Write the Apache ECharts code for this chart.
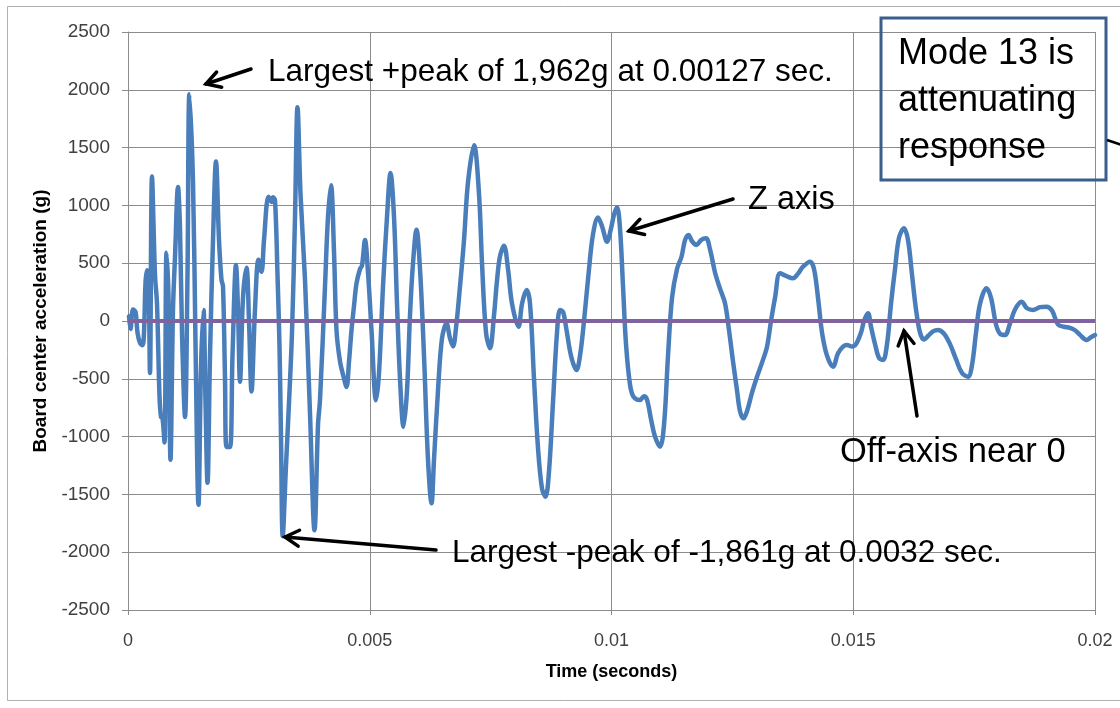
<!DOCTYPE html>
<html>
<head>
<meta charset="utf-8">
<script src="https://cdn.jsdelivr.net/npm/echarts@6/dist/echarts.min.js"></script>
<style>
  html, body { margin: 0; padding: 0; background: #ffffff; }
  #chart { width: 1120px; height: 708px; }
</style>
</head>
<body>
<div id="chart"></div>
<script>
// Board center acceleration, Z axis, time in milliseconds
const timeMs = [
  0.0207, 0.0517, 0.1034, 0.1551, 0.1965, 0.2482, 0.2999, 0.3309, 0.3620, 0.3930,
  0.4240, 0.4550, 0.4964, 0.5584, 0.5998, 0.6515, 0.6825, 0.7136, 0.7549, 0.7963,
  0.8377, 0.8790, 0.9307, 0.9721, 1.0342, 1.0755, 1.1169, 1.1789, 1.2306, 1.2700,
  1.3444, 1.3961, 1.4582, 1.5099, 1.5616, 1.6029, 1.6443, 1.6960, 1.7581, 1.8201,
  1.8822, 1.9339, 1.9649, 2.0063, 2.0373, 2.1097, 2.1614, 2.2338, 2.2751, 2.3165,
  2.3785, 2.4509, 2.5026, 2.5543, 2.6267, 2.6991, 2.7612, 2.8129, 2.9060, 2.9680,
  2.9990, 3.0404, 3.0921, 3.1335, 3.1645, 3.2000, 3.2679, 3.3196, 3.3920, 3.4541,
  3.5058, 3.5678, 3.6609, 3.7643, 3.8574, 3.9298, 3.9711, 4.0746, 4.1366, 4.1986,
  4.2607, 4.3124, 4.3848, 4.4572, 4.5192, 4.5709, 4.6226, 4.6744, 4.7261, 4.7985,
  4.8398, 4.9019, 4.9639, 5.0363, 5.1294, 5.1914, 5.2742, 5.3569, 5.4293, 5.5017,
  5.5637, 5.6258, 5.6982, 5.7706, 5.8326, 5.8947, 5.9671, 6.0394, 6.1222, 6.2049,
  6.2773, 6.3290, 6.4117, 6.4945, 6.5875, 6.6599, 6.7220, 6.7840, 6.8668, 6.9495,
  7.0322, 7.1563, 7.2597, 7.3218, 7.4045, 7.4872, 7.5700, 7.6320, 7.6941, 7.7768,
  7.8595, 7.9423, 8.0767, 8.1491, 8.2422, 8.3146, 8.3973, 8.4800, 8.5628, 8.6352,
  8.7075, 8.7903, 8.8730, 8.9351, 8.9971, 9.0592, 9.1626, 9.2763, 9.3487, 9.4314,
  9.5349, 9.6176, 9.7210, 9.8037, 9.9072, 9.9899, 10.0519, 10.1140, 10.1760, 10.2381,
  10.3001, 10.3829, 10.4553, 10.5897, 10.6724, 10.7345, 10.8172, 10.9000, 11.0034, 11.0861,
  11.1688, 11.2516, 11.3550, 11.4481, 11.5204, 11.5928, 11.6652, 11.7583, 11.8514, 11.9548,
  12.0375, 12.1409, 12.2444, 12.3478, 12.4305, 12.5132, 12.5960, 12.6580, 12.7304, 12.8028,
  12.9062, 13.0096, 13.1130, 13.2164, 13.2992, 13.3819, 13.4853, 13.6094, 13.7542, 13.8576,
  13.9610, 14.1058, 14.1885, 14.2713, 14.3540, 14.4574, 14.5815, 14.6849, 14.7883, 14.8711,
  14.9745, 15.0572, 15.1606, 15.2226, 15.3054, 15.3675, 15.4502, 15.5329, 15.6157, 15.6984,
  15.7811, 15.8639, 15.9466, 16.0500, 16.1327, 16.2155, 16.2982, 16.3809, 16.4637, 16.5464,
  16.6498, 16.7532, 16.8773, 17.0014, 17.1255, 17.2496, 17.3737, 17.4565, 17.5392, 17.6219,
  17.7564, 17.8494, 17.9528, 18.0356, 18.1390, 18.2424, 18.3458, 18.4803, 18.5940, 18.7181,
  18.8629, 18.9973, 19.1111, 19.2352, 19.3593, 19.4834, 19.5868, 19.6902, 19.8246, 19.9177,
  20.0000
];

const zAccel = [
  40, -70, 100, 80, -100, -190, -210, -100, 330, 440,
  380, -450, 1250, 400, 150, -650, -830, -840, -1050, 590,
  200, -1200, 100, 550, 1160, 800, -100, -830, 400, 1962,
  1200, -200, -1590, -400, 95, -700, -1400, -300, 700, 1380,
  700, 355, 300, -500, -1090, -1090, -300, 485, 100, -525,
  200, 460, 0, -610, 100, 530, 425, 700, 1075, 1030,
  1070, 1045, 400, -220, -1000, -1861, -1250, -800, -100, 900,
  1850, 1100, 355, -800, -1810, -900, -683, 300, 900, 1175,
  600, -80, -350, -480, -570, -350, -80, 130, 325, 450,
  480, 700, 420, -80, -685, -450, 300, 900, 1280, 900,
  150, -500, -915, -600, 50, 500, 790, 450, -300, -1200,
  -1577, -1200, -600, -150, -20, -150, -220, -60, 300, 700,
  1200, 1520, 1100, 500, -100, -236, 50, 350, 560, 650,
  450, 150, -49, 150, 268, 150, -500, -1100, -1450, -1520,
  -1300, -700, -100, 95, 80, -50, -300, -424, -300, 0,
  450, 750, 895, 820, 686, 800, 920, 985, 800, 300,
  -200, -550, -655, -683, -650, -680, -850, -1000, -1087, -900,
  -300, 200, 450, 556, 700, 744, 690, 657, 700, 715,
  620, 420, 280, 153, -80, -350, -600, -780, -842, -780,
  -620, -482, -360, -222, 0, 200, 412, 390, 369, 410,
  470, 513, 450, 200, -100, -300, -395, -280, -222, -208,
  -220, -200, -100, 0, 66, -50, -200, -320, -337, -200,
  150, 450, 720, 802, 700, 400, 100, -100, -160, -130,
  -90, -78, -110, -200, -330, -450, -482, -380, -100, 150,
  283, 200, -30, -110, -121, -20, 100, 167, 110, 95,
  120, 124, 90, -30, -50, -60, -80, -120, -164, -140,
  -121
];

// Off-axis channels stay at zero over the whole record
const offAxisTimeMs = [0, 20];
const xAccel = [0, 0];
const yAccel = [0, 0];

const timeTicks = [0, 0.005, 0.01, 0.015, 0.02];
const accelTicks = [-2500, -2000, -1500, -1000, -500, 0, 500, 1000, 1500, 2000, 2500];

const pair = (ts, vs) => ts.map((t, i) => [t / 1000, vs[i]]);

const gridColor = '#8c8c8c';
const labelColor = '#404040';
const textFont = '"Liberation Sans", Arial, sans-serif';

const chart = echarts.init(document.getElementById('chart'), null, { renderer: 'canvas' });

// Arrow: straight shaft with an open chevron head at the tip
function arrow(x1, y1, x2, y2) {
  const ang = Math.atan2(y2 - y1, x2 - x1);
  const len = 16, spread = Math.PI / 6;
  const a = [x2 - len * Math.cos(ang - spread), y2 - len * Math.sin(ang - spread)];
  const b = [x2 - len * Math.cos(ang + spread), y2 - len * Math.sin(ang + spread)];
  const style = { stroke: '#000000', lineWidth: 3.5, fill: null, lineCap: 'round', lineJoin: 'miter' };
  return [
    { type: 'line', shape: { x1: x1, y1: y1, x2: x2, y2: y2 }, style: style, z: 100 },
    { type: 'polyline', shape: { points: [a, [x2, y2], b] }, style: style, z: 100 }
  ];
}

function note(text, x, y, size) {
  return {
    type: 'text', x: x, y: y, z: 100,
    style: { text: text, font: size + 'px ' + textFont, fill: '#000000', textVerticalAlign: 'middle' }
  };
}

const graphics = [
  // outer chart frame
  { type: 'rect', shape: { x: 7.5, y: 6.5, width: 1140, height: 694 },
    style: { stroke: '#b0b0b0', lineWidth: 1, fill: null }, z: 0 },
  note('Largest +peak of 1,962g at 0.00127 sec.', 268, 72, 31.5),
  note('Z axis', 748, 200, 32.5),
  note('Largest -peak of -1,861g at 0.0032 sec.', 452, 553, 31.5),
  note('Off-axis near 0', 840, 452, 34.5),
  ...arrow(251, 69, 206, 84),
  ...arrow(733, 199, 629, 231),
  ...arrow(436, 550, 285, 537),
  ...arrow(917, 416, 904, 331),
  // callout box
  { type: 'rect', shape: { x: 881, y: 18, width: 225, height: 162 },
    style: { stroke: '#3b5f8c', lineWidth: 3, fill: null }, z: 100 },
  { type: 'text', x: 898, y: 31, z: 101,
    style: { text: 'Mode 13 is\nattenuating\nresponse', font: '36px ' + textFont,
             fill: '#000000', lineHeight: 47 } },
  { type: 'line', shape: { x1: 1107, y1: 140, x2: 1125, y2: 146 },
    style: { stroke: '#000000', lineWidth: 2.5 }, z: 100 }
];

const option = {
  backgroundColor: '#ffffff',
  animation: false,
  grid: { left: 128, right: 25, top: 32, bottom: 98, containLabel: false },
  xAxis: {
    type: 'value', min: 0, max: 0.02, interval: 0.005,
    name: 'Time (seconds)', nameLocation: 'middle', nameGap: 53,
    nameTextStyle: { fontFamily: textFont, fontWeight: 'bold', fontSize: 18, color: '#000000' },
    axisLine: { show: true, onZero: false, lineStyle: { color: gridColor, width: 1 } },
    axisTick: { show: true, inside: false, length: 5, lineStyle: { color: gridColor } },
    axisLabel: {
      fontFamily: textFont, fontSize: 18, color: labelColor, margin: 22,
      customValues: timeTicks,
      formatter: v => String(parseFloat(v.toFixed(3)))
    },
    splitLine: { show: true, lineStyle: { color: gridColor, width: 1 } }
  },
  yAxis: {
    type: 'value', min: -2500, max: 2500, interval: 500,
    name: 'Board center acceleration (g)', nameLocation: 'middle', nameGap: 78, nameRotate: 90,
    nameTextStyle: { fontFamily: textFont, fontWeight: 'bold', fontSize: 19, color: '#000000' },
    axisLine: { show: true, lineStyle: { color: gridColor, width: 1 } },
    axisTick: { show: true, inside: false, length: 6, lineStyle: { color: gridColor } },
    axisLabel: {
      fontFamily: textFont, fontSize: 19, color: labelColor, margin: 18,
      customValues: accelTicks,
      formatter: v => String(v)
    },
    splitLine: { show: true, lineStyle: { color: gridColor, width: 1 } }
  },
  series: [
    {
      name: 'Z axis', type: 'line', data: pair(timeMs, zAccel),
      smooth: 0.35, showSymbol: false, symbol: 'none',
      lineStyle: { color: '#4a7ebb', width: 4.5, cap: 'round', join: 'round' },
      z: 3
    },
    {
      name: 'X axis', type: 'line', data: pair(offAxisTimeMs, xAccel),
      showSymbol: false, symbol: 'none',
      lineStyle: { color: '#9bbb59', width: 3, type: 'dashed' }, z: 4
    },
    {
      name: 'Y axis', type: 'line', data: pair(offAxisTimeMs, yAccel),
      showSymbol: false, symbol: 'none',
      lineStyle: { color: '#7f63a1', width: 4 }, z: 5
    }
  ],
  graphic: graphics
};

chart.setOption(option);
</script>
</body>
</html>
